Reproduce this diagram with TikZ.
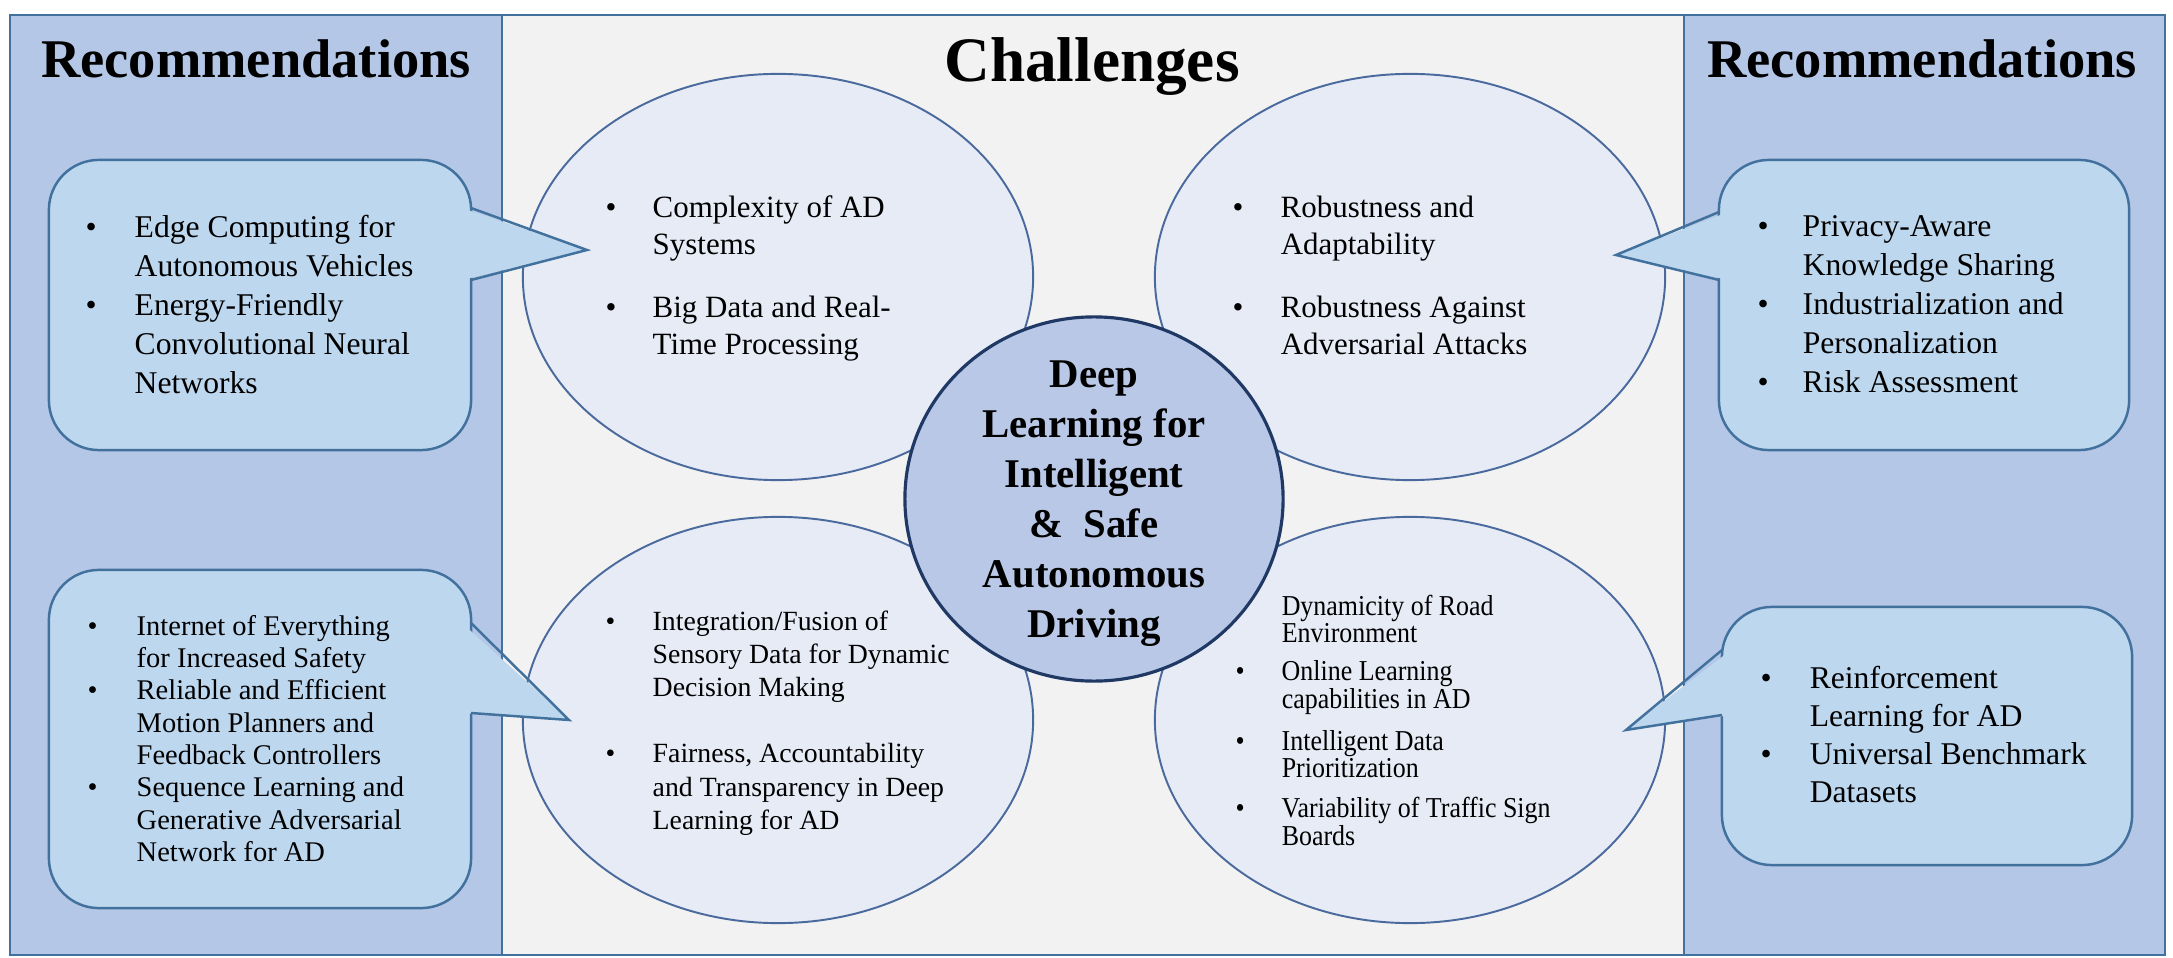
\documentclass[tikz,border=0pt]{standalone}
\usepackage{fontspec}
\setmainfont{Liberation Serif}
\newfontfamily\narrowfont[FakeStretch=0.9]{Liberation Serif}
\usepackage{xcolor}
\usetikzlibrary{shapes.geometric,positioning}

\definecolor{panelblue}{HTML}{B4C7E7}
\definecolor{midgray}{HTML}{F2F2F2}
\definecolor{frameblue}{HTML}{41719C}
\definecolor{ellfill}{HTML}{E6EBF6}
\definecolor{ellline}{HTML}{4A6A9E}
\definecolor{corefill}{HTML}{B8C8E6}
\definecolor{coreline}{HTML}{1F3864}
\definecolor{boxfill}{HTML}{BDD7EE}
\definecolor{boxline}{HTML}{41719C}

\tikzset{
  panel/.style={draw=frameblue, line width=0.6pt},
  challenge/.style={ellipse, draw=ellline, fill=ellfill, line width=0.55pt,
    minimum width=5.1cm, minimum height=4.06cm, inner sep=0pt},
  core/.style={ellipse, draw=coreline, fill=corefill, line width=0.9pt,
    minimum width=3.78cm, minimum height=3.64cm, inner sep=0pt},
  recbox/.style={draw=boxline, fill=boxfill, line width=0.7pt,
    rounded corners=0.5cm, inner sep=0pt},
  tipfill/.style={fill=boxfill},
  tipline/.style={draw=boxline, line width=0.7pt, line join=miter},
  heading/.style={anchor=base, inner sep=0pt},
  btext/.style={anchor=base west, inner sep=0pt}
}

\begin{document}
\begin{tikzpicture}[x=0.01cm, y=-0.01cm]

    \useasboundingbox (0,0) rectangle (2173,958);
    \fill[white] (0,0) rectangle (2173,958);

    % panels
    \filldraw[panel, fill=panelblue] (10,15) rectangle (502,955);
    \filldraw[panel, fill=midgray] (502,15) rectangle (1684,955);
    \filldraw[panel, fill=panelblue] (1684,15) rectangle (2165,955);

    % titles
    \node[heading, font=\bfseries\fontsize{15.5pt}{18pt}\selectfont] (recL) at (256,78) {Recommendations};
    \node[heading, font=\bfseries\fontsize{15.5pt}{18pt}\selectfont] (recR) at (1922,78) {Recommendations};
    \node[heading, font=\bfseries\fontsize{18pt}{21pt}\selectfont] (chal) at (1092,82) {Challenges};

    % challenges
    \node[challenge] (chTL) at (778,277) {};
    \node[challenge] (chTR) at (1410,277) {};
    \node[challenge] (chBL) at (778,720) {};
    \node[challenge] (chBR) at (1410,720) {};
    \node[core] (core) at (1094,499) {};

    \node[btext, font=\fontsize{8.8pt}{10.5pt}\selectfont] (txTL) at (605,218)
      {\begin{tabular}[t]{@{}p{0.47cm}@{}l@{}}
        \textbullet & Complexity of AD\\
                    & Systems\\[0.26cm]
        \textbullet & Big Data and Real-\\
                    & Time Processing
      \end{tabular}};
    \node[btext, font=\fontsize{8.8pt}{10.5pt}\selectfont] (txTR) at (1232,218)
      {\begin{tabular}[t]{@{}p{0.48cm}@{}l@{}}
        \textbullet & Robustness and\\
                    & Adaptability\\[0.26cm]
        \textbullet & Robustness Against\\
                    & Adversarial Attacks
      \end{tabular}};
    \node[btext, font=\fontsize{7.9pt}{9.5pt}\selectfont] (txBL) at (605,630)
      {\begin{tabular}[t]{@{}p{0.47cm}@{}l@{}}
        \textbullet & Integration/Fusion of\\
                    & Sensory Data for Dynamic\\
                    & Decision Making\\[0.325cm]
        \textbullet & Fairness, Accountability\\
                    & and Transparency in Deep\\
                    & Learning for AD
      \end{tabular}};
    \node[btext, font=\narrowfont\fontsize{8.2pt}{7.7pt}\selectfont] (txBR) at (1235,615)
      {\begin{tabular}[t]{@{}p{0.46cm}@{}l@{}}
                    & Dynamicity of Road\\
                    & Environment\\[0.1cm]
        \textbullet & Online Learning\\
                    & capabilities in AD\\[0.14cm]
        \textbullet & Intelligent Data\\
                    & Prioritization\\[0.11cm]
        \textbullet & Variability of Traffic Sign\\
                    & Boards
      \end{tabular}};

    \node[heading, font=\bfseries\fontsize{11.6pt}{14.2pt}\selectfont] (coreTxt) at (1094,388)
      {\begin{tabular}[t]{@{}c@{}}
        Deep\\ Learning for\\ Intelligent\\ \& \ Safe\\ Autonomous\\ Driving
      \end{tabular}};

    % recommendations
    \node[recbox, minimum width=4.22cm, minimum height=2.9cm] (recTL) at (260,305) {};
    \fill[tipfill] (462,208) -- (587,250) -- (462,280) -- cycle;
    \draw[tipline] (471,208) -- (587,250) -- (471,280);

    \node[recbox, minimum width=4.22cm, minimum height=3.38cm] (recBL) at (260,739) {};
    \fill[tipfill] (462,623) -- (569,720) -- (462,713) -- cycle;
    \draw[tipline] (471,623) -- (569,720) -- (471,713);

    \node[recbox, minimum width=4.1cm, minimum height=2.9cm] (recTR) at (1924,305) {};
    \fill[tipfill] (1728,212) -- (1616,255) -- (1728,280) -- cycle;
    \draw[tipline] (1719,212) -- (1616,255) -- (1719,280);

    \node[recbox, minimum width=4.1cm, minimum height=2.58cm] (recBR) at (1927,736) {};
    \fill[tipfill] (1731,650) -- (1626,730) -- (1731,715) -- cycle;
    \draw[tipline] (1722,650) -- (1626,730) -- (1722,715);

    \node[btext, font=\fontsize{9pt}{11.07pt}\selectfont] (txRTL) at (85,238)
      {\begin{tabular}[t]{@{}p{0.49cm}@{}l@{}}
        \textbullet & Edge Computing for\\
                    & Autonomous Vehicles\\
        \textbullet & Energy-Friendly\\
                    & Convolutional Neural\\
                    & Networks
      \end{tabular}};
    \node[btext, font=\fontsize{8.1pt}{9.2pt}\selectfont] (txRBL) at (87,635)
      {\begin{tabular}[t]{@{}p{0.49cm}@{}l@{}}
        \textbullet & Internet of Everything\\
                    & for Increased Safety\\
        \textbullet & Reliable and Efficient\\
                    & Motion Planners and\\
                    & Feedback Controllers\\
        \textbullet & Sequence Learning and\\
                    & Generative Adversarial\\
                    & Network for AD
      \end{tabular}};
    \node[btext, font=\fontsize{9pt}{11.07pt}\selectfont] (txRTR) at (1757,237)
      {\begin{tabular}[t]{@{}p{0.45cm}@{}l@{}}
        \textbullet & Privacy-Aware\\
                    & Knowledge Sharing\\
        \textbullet & Industrialization and\\
                    & Personalization\\
        \textbullet & Risk Assessment
      \end{tabular}};
    \node[btext, font=\fontsize{9pt}{10.9pt}\selectfont] (txRBR) at (1760,688)
      {\begin{tabular}[t]{@{}p{0.49cm}@{}l@{}}
        \textbullet & Reinforcement\\
                    & Learning for AD\\
        \textbullet & Universal Benchmark\\
                    & Datasets
      \end{tabular}};

\end{tikzpicture}
\end{document}
